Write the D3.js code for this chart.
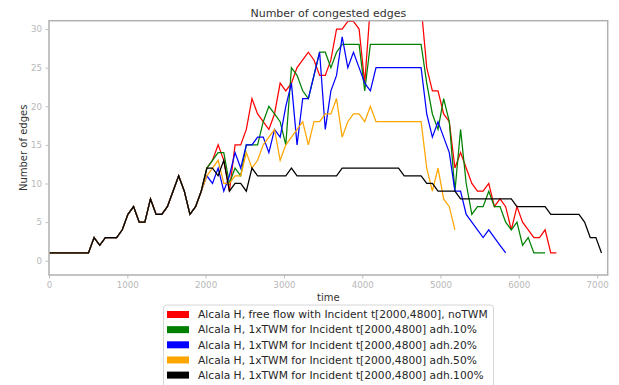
<!DOCTYPE html>
<html><head><meta charset="utf-8">
<script src="https://cdn.jsdelivr.net/npm/d3@7/dist/d3.min.js"></script>
<style>
body{margin:0;background:#fff}
svg{display:block}
text{font-family:"DejaVu Sans",sans-serif}
</style>
</head><body>
<svg id="chart" width="619" height="385"></svg>
<script>
// ---- data ----
const timeStep = 72; // seconds between samples
const xTicks = [0, 1000, 2000, 3000, 4000, 5000, 6000, 7000];
const yTicks = [0, 5, 10, 15, 20, 25, 30];
const seriesNames = [
  "Alcala H, free flow with Incident t[2000,4800], noTWM",
  "Alcala H, 1xTWM for Incident t[2000,4800] adh.10%",
  "Alcala H, 1xTWM for Incident t[2000,4800] adh.20%",
  "Alcala H, 1xTWM for Incident t[2000,4800] adh.50%",
  "Alcala H, 1xTWM for Incident t[2000,4800] adh.100%"
];
const seriesColors = ["#ff0000", "#008000", "#0000ff", "#ffa500", "#000000"];

const redValues = [1,1,1,1,1,1,1,1,3,2,3,3,3,4,6,7,5,5,8,6,6,7,9,11,9,6,7,9,
  12,13,15,13,9,15,15,17,21,19,18,17,19,
  23,22,23,25,26,27,26,24,24,26,30,30,31,31,30,23,
  33,33,33,33,33,33,33,33,33,33,
  25,22,22,19,18,12,14,12,10,9,9,10,7,8,7,4,7,5,4,3,3,4,1,1];
const greenValues = [1,1,1,1,1,1,1,1,3,2,3,3,3,4,6,7,5,5,8,6,6,7,9,11,9,6,7,9,
  12,13,14,14,10,12,11,15,15,15,18,20,19,18,15,
  25,24,22,21,24,27,27,25,27,28,28,28,28,22,
  28,28,28,28,28,28,28,28,28,28,
  23,19,17,21,18,9,17,10,6,7,7,9,7,7,5,4,5,2,3,1,1,1];
const blueValues = [1,1,1,1,1,1,1,1,3,2,3,3,3,4,6,7,5,5,8,6,6,7,9,11,9,6,7,9,
  11,10,12,9,11,14,12,15,15,16,16,14,17,16,20,23,
  15,21,21,24,27,17,22,24,29,25,27,25,23,22,
  25,25,25,25,25,25,25,25,25,
  19,16,18,16,14,9,9,6,5,4,3,4,3,2,1];
const orangeValues = [1,1,1,1,1,1,1,1,3,2,3,3,3,4,6,7,5,5,8,6,6,7,9,11,9,6,7,9,
  11,12,13,10,10,11,11,14,12,13,15,16,17,13,15,16,17,18,
  15,18,18,19,19,21,16,18,19,19,18,20,
  18,18,18,18,18,18,18,18,18,
  12,9,12,8,7,4];
const blackValues = [1,1,1,1,1,1,1,1,3,2,3,3,3,4,6,7,5,5,8,6,6,7,9,11,9,6,7,9,
  12,12,11,13,9,10,10,9,12,
  11,11,11,11,11,11,12,
  11,11,11,11,11,11,11,11,
  12,12,12,12,12,12,12,12,12,12,12,
  11,11,11,11,10,10,9,9,9,9,
  8,8,8,8,8,8,8,8,8,8,
  7,7,7,7,7,7,6,6,6,6,6,6,
  5,3,3,1];

const allSeries = [redValues, greenValues, blueValues, orangeValues, blackValues];

// ---- layout ----
const svg = d3.select("#chart");
const L = 49, R = 607.7, T = 20.7, B = 275;
const x = d3.scaleLinear().domain([0, 7135]).range([L, R]);
const y = d3.scaleLinear().domain([-1.85, 31.08]).range([B, T]);

svg.append("defs").append("clipPath").attr("id", "plotclip")
  .append("rect").attr("x", L).attr("y", T).attr("width", R - L).attr("height", B - T);

// lines
const line = d3.line().x((d, i) => x(i * timeStep)).y(d => y(d));
const lg = svg.append("g").attr("clip-path", "url(#plotclip)");
allSeries.forEach((vals, si) => {
  lg.append("path").datum(vals)
    .attr("d", line)
    .attr("fill", "none")
    .attr("stroke", seriesColors[si])
    .attr("stroke-width", 1.25)
    .attr("stroke-linejoin", "miter");
});

// frame
svg.append("rect").attr("x", L).attr("y", T).attr("width", R - L).attr("height", B - T)
  .attr("fill", "none").attr("stroke", "#b0b0b0").attr("stroke-width", 1.5);

// axes
const tickColor = "#b8b8b8";
const xa = svg.append("g").attr("transform", `translate(0,${B})`)
  .call(d3.axisBottom(x).tickValues(xTicks).tickSize(3.5).tickPadding(3.5).tickFormat(d3.format("d")));
const ya = svg.append("g").attr("transform", `translate(${L},0)`)
  .call(d3.axisLeft(y).tickValues(yTicks).tickSize(3.5).tickPadding(3.5).tickFormat(d3.format("d")));
[xa, ya].forEach(g => {
  g.select(".domain").remove();
  g.selectAll(".tick line").attr("stroke", tickColor).attr("stroke-width", 0.9);
  g.selectAll(".tick text").attr("fill", tickColor).style("font-size", "8.7px")
    .style("font-family", "'DejaVu Sans',sans-serif");
});

// title and labels
svg.append("text").attr("x", (L + R) / 2).attr("y", 16.5).attr("text-anchor", "middle")
  .attr("fill", "#333").style("font-size", "11px").text("Number of congested edges");
svg.append("text").attr("x", (L + R) / 2).attr("y", 300.5).attr("text-anchor", "middle")
  .attr("fill", "#333").style("font-size", "10px").text("time");
svg.append("text").attr("transform", `translate(26.8,${(T + B) / 2}) rotate(-90)`)
  .attr("text-anchor", "middle").attr("fill", "#333").style("font-size", "10px").text("Number of edges");

// legend
const leg = svg.append("g");
leg.append("rect").attr("x", 163.5).attr("y", 305).attr("width", 330).attr("height", 86)
  .attr("rx", 3).attr("fill", "#fff").attr("fill-opacity", 0.85)
  .attr("stroke", "#d6d6d6").attr("stroke-width", 1);
seriesNames.forEach((name, i) => {
  const cy = 314.5 + i * 15.15;
  leg.append("rect").attr("x", 167).attr("y", cy - 3.5).attr("width", 22).attr("height", 7)
    .attr("fill", seriesColors[i]);
  leg.append("text").attr("x", 198).attr("y", cy + 3.8).attr("fill", "#262626")
    .style("font-size", "10.7px").text(name);
});
</script>
</body></html>
